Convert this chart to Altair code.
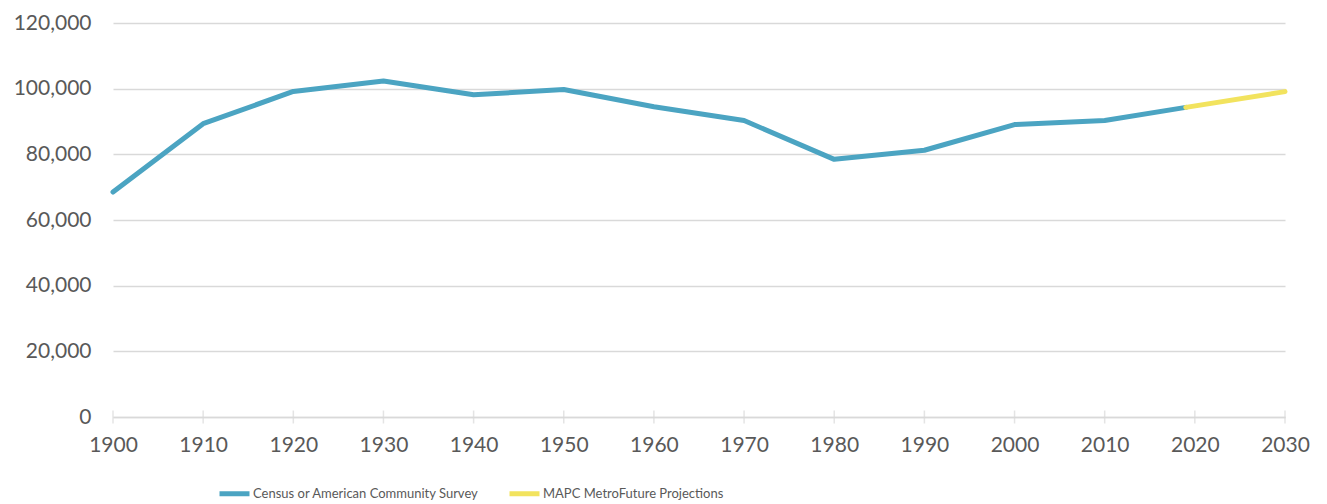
import altair as alt
import pandas as pd

census_years = [1900, 1910, 1920, 1930, 1940, 1950, 1960, 1970, 1980, 1990, 2000, 2010, 2019]
census_values = [68513, 89336, 99148, 102320, 98123, 99738, 94478, 90294, 78471, 81245, 89050, 90329, 94299]
proj_years = [2019, 2030]
proj_values = [94299, 99100]
series_names = ["Census or American Community Survey", "MAPC MetroFuture Projections"]
series_colors = ["#4BA4C2", "#F2E35E"]
tick_years = list(range(1900, 2031, 10))
y_ticks = list(range(0, 120001, 20000))

rows = []
for yr, v in zip(census_years, census_values):
    rows.append({"year": yr, "value": v, "series": series_names[0]})
for yr, v in zip(proj_years, proj_values):
    rows.append({"year": yr, "value": v, "series": series_names[1]})
df = pd.DataFrame(rows)
ticks_df = pd.DataFrame({"year": tick_years, "zero": [0] * len(tick_years)})

FONT = "Lato"
LABEL_COLOR = "#595959"
GRID = "#D9D9D9"

x_scale = alt.Scale(domain=[1900, 2030], nice=False, zero=False)
y_scale = alt.Scale(domain=[0, 120000], nice=False)

x_axis = alt.Axis(values=tick_years, format="d", title=None, grid=False,
                  domainColor=GRID, domainWidth=1.5, ticks=False, labelFlush=False,
                  labelFont=FONT, labelFontSize=21, labelColor=LABEL_COLOR,
                  labelPadding=17)
y_axis = alt.Axis(values=y_ticks, format=",.0f", title=None, grid=True,
                  gridColor=GRID, gridWidth=1.5, domain=False, ticks=False,
                  labelFlush=False,
                  labelFont=FONT, labelFontSize=21, labelColor=LABEL_COLOR,
                  labelPadding=22)

lines = alt.Chart(df).mark_line(strokeWidth=5, strokeCap="round", strokeJoin="round").encode(
    x=alt.X("year:Q", scale=x_scale, axis=x_axis),
    y=alt.Y("value:Q", scale=y_scale, axis=y_axis),
    color=alt.Color("series:N",
                    scale=alt.Scale(domain=series_names, range=series_colors),
                    legend=alt.Legend(title=None, orient="none", direction="horizontal",
                                      legendX=104, legendY=453,
                                      symbolType="stroke", symbolSize=900,
                                      symbolStrokeWidth=5, labelOffset=1,
                                      labelFont=FONT, labelFontSize=13,
                                      labelColor=LABEL_COLOR, labelLimit=400,
                                      columnPadding=20)),
    detail="series:N",
    order="year:Q",
)

tick_marks = alt.Chart(ticks_df).mark_tick(orient="vertical", size=13, thickness=1.5, color=GRID).encode(
    x=alt.X("year:Q", scale=x_scale, axis=x_axis),
    y=alt.Y("zero:Q", scale=y_scale, axis=y_axis),
)

chart = alt.layer(tick_marks, lines).properties(
    width=1172,
    height=394,
    autosize=alt.AutoSizeParams(type="none"),
    padding={"left": 105, "top": 15, "right": 30, "bottom": 100},
).configure_view(stroke=None)

chart.save("out.html", embed_options={"renderer": "svg", "actions": False})
